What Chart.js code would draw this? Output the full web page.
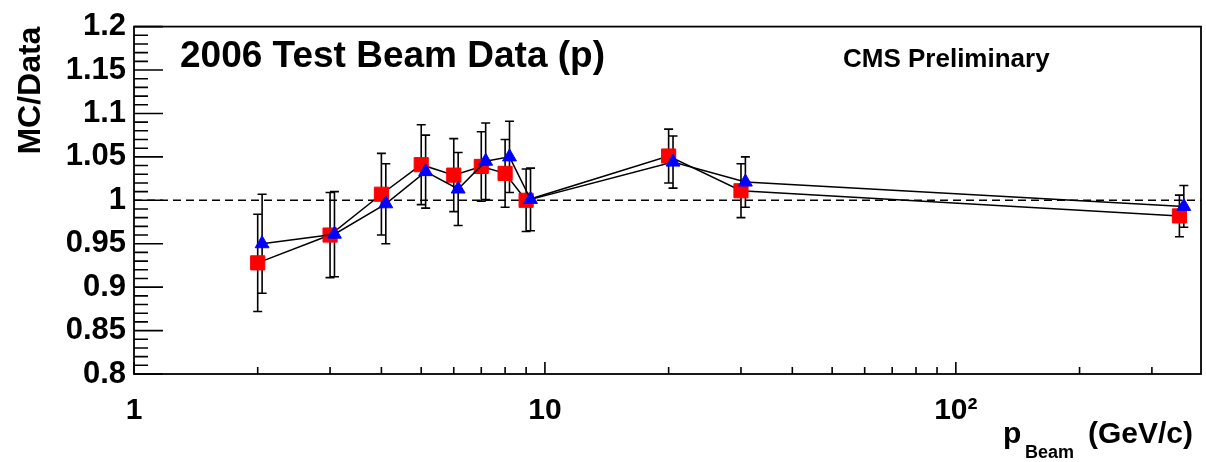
<!DOCTYPE html>
<html>
<head>
<meta charset="utf-8">
<title>2006 Test Beam Data (p)</title>
<script src="https://cdn.jsdelivr.net/npm/chart.js@4.4.1/dist/chart.umd.min.js"></script>
<style>
  html, body { margin: 0; padding: 0; background: #fff; }
  #wrap { width: 1206px; height: 462px; }
</style>
</head>
<body>
<div id="wrap"><canvas id="ratio" width="1206" height="462"></canvas></div>
<script>
// beam momenta (GeV/c)
const momenta = [2, 3, 4, 5, 6, 7, 8, 9, 20, 30, 350];

// MC/Data, red squares
const squareRatio = [0.928, 0.960, 1.007, 1.041, 1.029, 1.039, 1.031, 1.000, 1.051, 1.011, 0.982];
const squareErr   = [0.056, 0.049, 0.047, 0.046, 0.042, 0.040, 0.039, 0.036, 0.031, 0.031, 0.024];

// MC/Data, blue triangles
const triangleRatio = [0.950, 0.961, 0.996, 1.033, 1.013, 1.045, 1.050, 1.001, 1.044, 1.021, 0.993];
const triangleErr   = [0.057, 0.049, 0.046, 0.042, 0.042, 0.044, 0.041, 0.036, 0.030, 0.029, 0.024];

// axis labels
const yTicks = [0.8, 0.85, 0.9, 0.95, 1, 1.05, 1.1, 1.15, 1.2];
const xTicks = [1, 10, 100];
const xTickLabels = ['1', '10', '10\u00B2'];

const FONT = '"Liberation Sans", Arial, Helvetica, sans-serif';
const SHIFT = 1.025; // triangles sit slightly to the right of the squares

const triPoints = momenta.map((p, i) => ({ x: p * SHIFT, y: triangleRatio[i], e: triangleErr[i] }));
const sqPoints = momenta.map((p, i) => ({ x: p, y: squareRatio[i], e: squareErr[i] }));

// reference line, error bars, frame and inward tick marks
const rootStyle = {
  id: 'rootStyle',
  beforeDatasetsDraw(chart) {
    const { ctx, chartArea: a, scales: { x, y } } = chart;
    ctx.save();
    // dashed line at 1
    const y1 = y.getPixelForValue(1);
    ctx.strokeStyle = '#000';
    ctx.lineWidth = 1.5;
    ctx.setLineDash([8, 5]);
    ctx.beginPath();
    ctx.moveTo(a.left, y1);
    ctx.lineTo(a.right, y1);
    ctx.stroke();
    ctx.setLineDash([]);

    // error bars
    chart.data.datasets.forEach((ds, di) => {
      const meta = chart.getDatasetMeta(di);
      ds.data.forEach((pt, i) => {
        const px = meta.data[i].x;
        const top = y.getPixelForValue(pt.y + pt.e);
        const bot = y.getPixelForValue(pt.y - pt.e);
        ctx.lineWidth = 1.6;
        ctx.beginPath();
        ctx.moveTo(px, top);
        ctx.lineTo(px, bot);
        ctx.moveTo(px - 4.5, top);
        ctx.lineTo(px + 4.5, top);
        ctx.moveTo(px - 4.5, bot);
        ctx.lineTo(px + 4.5, bot);
        ctx.stroke();
      });
    });
    ctx.restore();
  },
  afterDraw(chart) {
    const { ctx, chartArea: a, scales: { x, y } } = chart;
    ctx.save();
    ctx.strokeStyle = '#000';
    ctx.lineWidth = 1.8;
    ctx.strokeRect(a.left, a.top, a.right - a.left, a.bottom - a.top);

    // y ticks every 0.01, long ones every 0.05
    ctx.lineWidth = 1.6;
    ctx.beginPath();
    for (let k = 0; k <= 40; k++) {
      const py = y.getPixelForValue(0.8 + k * 0.01);
      const len = k % 5 === 0 ? 29 : 14;
      ctx.moveTo(a.left, py);
      ctx.lineTo(a.left + len, py);
    }
    // x ticks per decade
    for (let d = 1; d <= 100; d *= 10) {
      for (let k = 1; k <= 9; k++) {
        const v = k * d;
        if (v > x.max) break;
        const px = x.getPixelForValue(v);
        const len = k === 1 ? 12 : 7;
        ctx.moveTo(px, a.bottom);
        ctx.lineTo(px, a.bottom - len);
      }
    }
    ctx.stroke();

    // titles and labels
    ctx.fillStyle = '#000';
    ctx.textBaseline = 'alphabetic';
    ctx.textAlign = 'left';
    ctx.font = 'bold 37px ' + FONT;
    ctx.fillText('2006 Test Beam Data (p)', 180, 67);
    ctx.font = 'bold 26px ' + FONT;
    ctx.fillText('CMS Preliminary', 843, 67);

    ctx.font = 'bold 30px ' + FONT;
    ctx.fillText('p', 1003, 443);
    ctx.fillText('(GeV/c)', 1088, 443);
    ctx.font = 'bold 18px ' + FONT;
    ctx.fillText('Beam', 1025, 458);

    ctx.translate(40, a.top);
    ctx.rotate(-Math.PI / 2);
    ctx.textAlign = 'right';
    ctx.font = 'bold 32px ' + FONT;
    ctx.fillText('MC/Data', 0, 0);
    ctx.restore();
  }
};

new Chart(document.getElementById('ratio'), {
  type: 'scatter',
  data: {
    datasets: [
      {
        label: 'triangles',
        data: triPoints,
        showLine: true,
        borderColor: '#000',
        borderWidth: 1.5,
        pointStyle: 'triangle',
        pointRadius: 8,
        pointBackgroundColor: '#0000ff',
        pointBorderColor: '#0000ff',
        pointBorderWidth: 1,
      },
      {
        label: 'squares',
        data: sqPoints,
        showLine: true,
        borderColor: '#000',
        borderWidth: 1.5,
        pointStyle: 'rect',
        pointRadius: 10,
        pointBackgroundColor: '#ff0000',
        pointBorderColor: '#ff0000',
        pointBorderWidth: 1,
      },
    ],
  },
  options: {
    responsive: false,
    animation: false,
    layout: { autoPadding: false, padding: { top: 23, right: 5, left: 0, bottom: 0 } },
    plugins: { legend: { display: false }, tooltip: { enabled: false } },
    scales: {
      x: {
        type: 'logarithmic',
        min: 1,
        max: 395,
        grid: { display: false, drawTicks: false },
        border: { display: false },
        afterFit: (s) => {
          s.height = 88;
          s.paddingLeft = 0;
          s.paddingRight = 0;
        },
        afterBuildTicks: (s) => { s.ticks = xTicks.map(v => ({ value: v })); },
        ticks: {
          color: '#000',
          font: { family: FONT, size: 30, weight: 'bold' },
          padding: 19,
          maxRotation: 0,
          autoSkip: false,
          callback: (v) => xTickLabels[xTicks.indexOf(v)],
        },
      },
      y: {
        min: 0.8,
        max: 1.2,
        grid: { display: false, drawTicks: false },
        border: { display: false },
        afterFit: (s) => { s.width = 134; },
        afterBuildTicks: (s) => { s.ticks = yTicks.map(v => ({ value: v })); },
        ticks: {
          color: '#000',
          font: { family: FONT, size: 31, weight: 'bold' },
          padding: 8,
          autoSkip: false,
          callback: (v) => String(+v.toFixed(2)),
        },
      },
    },
  },
  plugins: [rootStyle],
});
</script>
</body>
</html>
